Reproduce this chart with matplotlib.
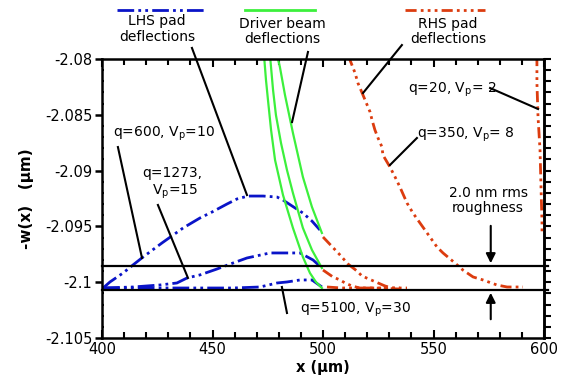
import matplotlib
matplotlib.use("Agg")
import matplotlib.pyplot as plt
from matplotlib.lines import Line2D
from matplotlib.ticker import MultipleLocator, FixedLocator, FixedFormatter

plt.rcParams['font.family'] = ['DejaVu Sans']
plt.rcParams['mathtext.fontset'] = 'dejavusans'
plt.rcParams['lines.scale_dashes'] = False

# ---- data (x in um, -w(x) in um) ----
lhs_q600_x = [400.5, 403.6, 409.5, 414.0, 418.6, 427.1, 436.7, 444.3, 449.8, 456.6, 461.1, 466.1, 472.9, 479.2, 481.9, 486.0, 490.9, 495.0, 498.6]
lhs_q600_y = [-2.10052, -2.09998, -2.09918, -2.09846, -2.09774, -2.09649, -2.09514, -2.09425, -2.09371, -2.09299, -2.09254, -2.09228, -2.09228, -2.09237, -2.09264, -2.09317, -2.09380, -2.09452, -2.09532]

lhs_q1273_x = [400.5, 414.0, 426.2, 433.9, 438.5, 444.3, 452.0, 459.3, 465.6, 476.0, 483.7, 489.6, 495.5, 499.5]
lhs_q1273_y = [-2.10052, -2.10043, -2.10025, -2.10007, -2.09962, -2.09935, -2.09882, -2.09828, -2.09783, -2.09738, -2.09738, -2.09738, -2.09801, -2.09873]

lhs_q5100_x = [400.5, 421.7, 444.3, 459.3, 471.5, 479.2, 483.7, 489.6, 495.0, 499.5]
lhs_q5100_y = [-2.10052, -2.10052, -2.10052, -2.10052, -2.10043, -2.10007, -2.09998, -2.09980, -2.09980, -2.10043]

beam_1_x = [473.3, 474.2, 475.1, 476.5, 478.3, 481.9, 486.4, 490.9, 494.1, 496.8, 499.5]
beam_1_y = [-2.07964, -2.08188, -2.08367, -2.08636, -2.08905, -2.09219, -2.09514, -2.09774, -2.09918, -2.09998, -2.10052]
beam_2_x = [476.0, 477.4, 478.7, 481.0, 483.7, 486.4, 490.9, 495.0, 499.5]
beam_2_y = [-2.07964, -2.08278, -2.08502, -2.08753, -2.08995, -2.09201, -2.09514, -2.09711, -2.09873]
beam_3_x = [479.2, 480.5, 482.8, 486.4, 490.9, 495.0, 499.5]
beam_3_y = [-2.07964, -2.08072, -2.08323, -2.08663, -2.09057, -2.09326, -2.09559]

rhs_q600_x = [500.0, 507.7, 511.3, 515.4, 517.6, 524.9, 528.1, 531.2, 534.8, 538.0]
rhs_q600_y = [-2.09595, -2.09756, -2.09837, -2.09900, -2.09944, -2.10007, -2.10034, -2.10052, -2.10052, -2.10052]
rhs_q1273_x = [500.0, 504.5, 507.7, 510.0, 513.1, 516.7, 523.5, 534.8]
rhs_q1273_y = [-2.09891, -2.09953, -2.09980, -2.10007, -2.10034, -2.10052, -2.10052, -2.10061]
rhs_q5100_x = [501.8, 508.6, 516.7, 525.8, 534.8]
rhs_q5100_y = [-2.10043, -2.10052, -2.10052, -2.10052, -2.10052]
rhs_q350_x = [511.8, 512.2, 514.5, 515.8, 518.1, 521.3, 522.2, 523.5, 524.9, 526.7, 527.1, 530.3, 532.6, 534.8, 538.0, 540.7, 543.9, 547.1, 551.6, 554.3, 559.7, 563.3, 567.9, 572.4, 578.7, 583.3, 590.5]
rhs_q350_y = [-2.07964, -2.08009, -2.08125, -2.08215, -2.08323, -2.08475, -2.08547, -2.08636, -2.08708, -2.08789, -2.08860, -2.08968, -2.09057, -2.09147, -2.09290, -2.09380, -2.09470, -2.09559, -2.09685, -2.09738, -2.09828, -2.09891, -2.09953, -2.09980, -2.10025, -2.10043, -2.10043]
rhs_q20_x = [596.8, 596.8, 597.3, 598.2, 598.6, 599.1, 599.1]
rhs_q20_y = [-2.07964, -2.08215, -2.08520, -2.08815, -2.09111, -2.09470, -2.09550]

roughness_levels = [-2.09855, -2.10070]

x_ticks = [400, 450, 500, 550, 600]
x_tick_labels = ['400', '450', '500', '550', '600']
y_ticks = [-2.105, -2.1, -2.095, -2.09, -2.085, -2.08]
y_tick_labels = ['-2.105', '-2.1', '-2.095', '-2.09', '-2.085', '-2.08']

BLUE = '#0a14c8'
GREEN = '#3cf03c'
ORANGE = '#dc3c0f'
blue_ls = (0, (12, 3, 2, 3, 2, 3))
orange_ls = (0, (8, 3, 2, 3, 2, 3, 2, 3))

W, H = 577, 379
fig = plt.figure(figsize=(W / 100, H / 100), dpi=100)
ax = fig.add_axes([102 / W, 1 - 338 / H, (544 - 102) / W, (338 - 59) / H])

for xs, ys in [(lhs_q600_x, lhs_q600_y), (lhs_q1273_x, lhs_q1273_y), (lhs_q5100_x, lhs_q5100_y)]:
    ax.plot(xs, ys, color=BLUE, lw=2.0, ls=blue_ls)
for xs, ys in [(beam_1_x, beam_1_y), (beam_2_x, beam_2_y), (beam_3_x, beam_3_y)]:
    ax.plot(xs, ys, color=GREEN, lw=1.6, ls='-')
for xs, ys in [(rhs_q600_x, rhs_q600_y), (rhs_q1273_x, rhs_q1273_y), (rhs_q5100_x, rhs_q5100_y),
               (rhs_q350_x, rhs_q350_y), (rhs_q20_x, rhs_q20_y)]:
    ax.plot(xs, ys, color=ORANGE, lw=2.0, ls=orange_ls)

for lvl in roughness_levels:
    ax.axhline(lvl, color='black', lw=1.6, xmax=1.01, clip_on=False)

ax.set_xlim(400, 600)
ax.set_ylim(-2.105, -2.08)

ax.xaxis.set_major_locator(FixedLocator(x_ticks))
ax.xaxis.set_major_formatter(FixedFormatter(x_tick_labels))
ax.xaxis.set_minor_locator(MultipleLocator(10))
ax.yaxis.set_major_locator(FixedLocator(y_ticks))
ax.yaxis.set_major_formatter(FixedFormatter(y_tick_labels))
ax.yaxis.set_minor_locator(MultipleLocator(0.001))

ax.tick_params(axis='x', which='major', direction='in', top=True, length=6, width=1.5, labelsize=10.5, pad=3)
ax.tick_params(axis='x', which='minor', direction='in', top=True, length=4, width=1.5)
ax.tick_params(axis='y', which='major', direction='out', right=False, length=5, width=1.8, labelsize=10.5, pad=2)
ax.tick_params(axis='y', which='minor', direction='in', right=False, length=1.5, width=1.5)
sec = ax.secondary_yaxis('right')
sec.yaxis.set_major_locator(MultipleLocator(0.001))
sec.tick_params(axis='y', which='major', direction='out', length=5, width=1.5, labelright=False)
sec.spines['right'].set_linewidth(1.8)
for sp in ax.spines.values():
    sp.set_linewidth(1.8)

ax.set_xlabel('x (µm)', fontsize=10.5, fontweight='bold', labelpad=2)
ax.set_ylabel('-w(x)   (µm)', fontsize=11, fontweight='bold', labelpad=8)

# annotations inside axes (baseline positions)
fs = 10
ax.text(428.1, -2.08699, r'q=600, V$_{\rm p}$=10', fontsize=fs, ha='center', va='baseline')
ax.text(431.9, -2.09057, 'q=1273,', fontsize=fs, ha='center', va='baseline')
ax.text(433.0, -2.09215, r'V$_{\rm p}$=15', fontsize=fs, ha='center', va='baseline')
ax.text(514.5, -2.10276, r'q=5100, V$_{\rm p}$=30', fontsize=fs, ha='center', va='baseline')
ax.text(558.6, -2.08305, r'q=20, V$_{\rm p}$= 2', fontsize=fs, ha='center', va='baseline')
ax.text(564.9, -2.08708, r'q=350, V$_{\rm p}$= 8', fontsize=fs, ha='center', va='baseline')
ax.text(574.7, -2.09237, '2.0 nm rms', fontsize=fs, ha='center', va='baseline')
ax.text(574.7, -2.09371, 'roughness', fontsize=fs, ha='center', va='baseline')

pointers = [
    ((440.7, -2.07901), (465.6, -2.09219)),
    ((493.2, -2.07937), (486.0, -2.08565)),
    ((535.7, -2.07875), (518.1, -2.08305)),
    ((407.2, -2.08789), (418.1, -2.09783)),
    ((425.3, -2.09308), (438.9, -2.09962)),
    ((481.4, -2.10043), (483.7, -2.10276)),
    ((575.6, -2.08260), (597.3, -2.08448)),
    ((542.5, -2.08708), (530.3, -2.08950)),
]
for (x0, y0), (x1, y1) in pointers:
    ax.plot([x0, x1], [y0, y1], color='black', lw=1.5, clip_on=False)

ax.annotate('', xy=(575.9, -2.09855), xytext=(575.9, -2.09470),
            arrowprops=dict(arrowstyle='-|>', color='black', lw=1.5, mutation_scale=14))
ax.annotate('', xy=(575.9, -2.10070), xytext=(575.9, -2.10357),
            arrowprops=dict(arrowstyle='-|>', color='black', lw=1.5, mutation_scale=14))

# legend-like header above the axes (figure pixel positions)
def fx(p):
    return p / W

def fy(p):
    return 1 - p / H

fig.add_artist(Line2D([fx(117), fx(204)], [fy(10), fy(10)], color=BLUE, lw=2.0, ls=blue_ls))
fig.add_artist(Line2D([fx(245), fx(315)], [fy(10), fy(10)], color=GREEN, lw=2.0, ls='-'))
fig.add_artist(Line2D([fx(405), fx(485)], [fy(10), fy(10)], color=ORANGE, lw=2.0, ls=orange_ls))
fig.text(fx(157), fy(25), 'LHS pad', fontsize=fs, ha='center', va='baseline')
fig.text(fx(157), fy(41), 'deflections', fontsize=fs, ha='center', va='baseline')
fig.text(fx(282), fy(28), 'Driver beam', fontsize=fs, ha='center', va='baseline')
fig.text(fx(282), fy(43), 'deflections', fontsize=fs, ha='center', va='baseline')
fig.text(fx(448), fy(28), 'RHS pad', fontsize=fs, ha='center', va='baseline')
fig.text(fx(448), fy(43), 'deflections', fontsize=fs, ha='center', va='baseline')

fig.savefig('out.png', dpi=100)
